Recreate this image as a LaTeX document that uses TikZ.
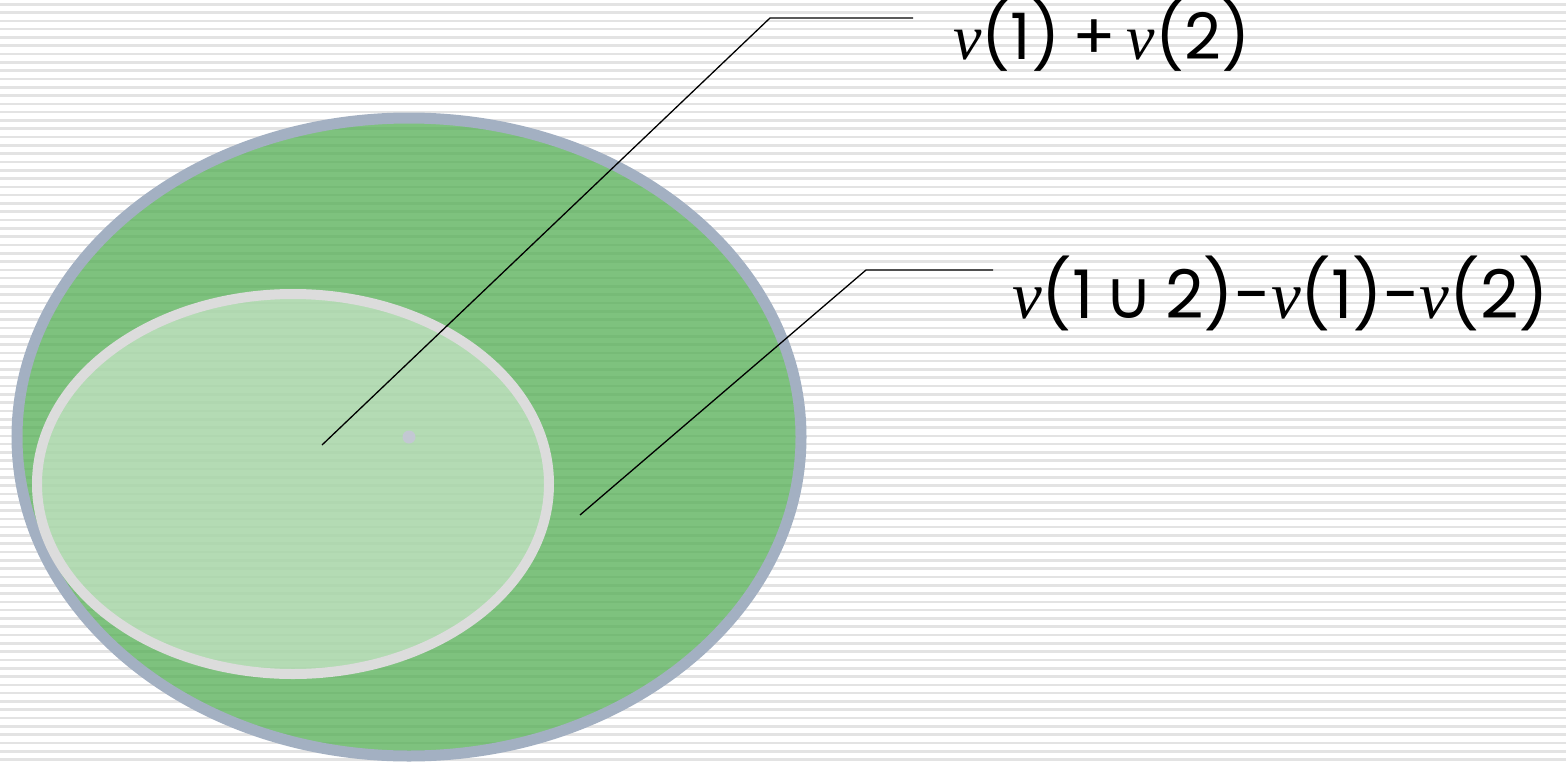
\documentclass[tikz,border=0pt]{standalone}
\usepackage{fontspec}
\setmainfont{Poppins}
\newfontfamily\vserif{Liberation Serif}
\newfontfamily\symfont{DejaVu Sans}
\newcommand{\vv}{{\vserif\itshape v}}
\begin{document}
\begin{tikzpicture}[x=1pt,y=-1pt,
  stripe/.style={draw=black!11,line width=2.6pt},
  outerell/.style={draw=outerborder,line width=11pt,fill=fillgreen,fill opacity=0.76,draw opacity=1},
  innerell/.style={draw=innerborder,line width=10pt,fill=white,fill opacity=0.42,draw opacity=1},
  leader/.style={draw=black,line width=1.3pt},
  lbl/.style={inner sep=0pt,anchor=base west}]
\definecolor{outerborder}{HTML}{A3B0C2}
\definecolor{innerborder}{HTML}{DCDCDC}
\definecolor{fillgreen}{RGB}{86,175,86}
\definecolor{dotcol}{HTML}{C3C8D3}
\useasboundingbox (0,0) rectangle (1566,763);
\fill[white] (0,0) rectangle (1566,763);
\foreach \i in {0,...,92} {
  \draw[stripe] (0,{4.2+8.3*\i}) -- (1566,{4.2+8.3*\i});
}
% outer ellipse
\path[outerell] (409,437) ellipse [x radius=392, y radius=319];
% inner ellipse
\path[innerell] (293,484) ellipse [x radius=256, y radius=190];
% center dot
\fill[dotcol] (409,437) circle (6.5);
% labels
\node[lbl,font=\fontsize{64}{66}\selectfont] (t1) at (953,59) {\vv(1)\hspace{0.2em}+\hspace{0.16em}\vv(2)};
\node[lbl,font=\fontsize{67}{69}\selectfont] (t2) at (1012,318) {\vv(1\,{\symfont ∪}\,2)-\vv(1)-\vv(2)};
% leader lines
\coordinate (p1) at (322,445);
\coordinate (b1) at (770,18);
\coordinate (e1) at (913,18);
\coordinate (p2) at (580,515);
\coordinate (b2) at (866,270);
\coordinate (e2) at (993,270);
\draw[leader] (p1) -- (b1) -- (e1);
\draw[leader] (p2) -- (b2) -- (e2);
\end{tikzpicture}
\end{document}
